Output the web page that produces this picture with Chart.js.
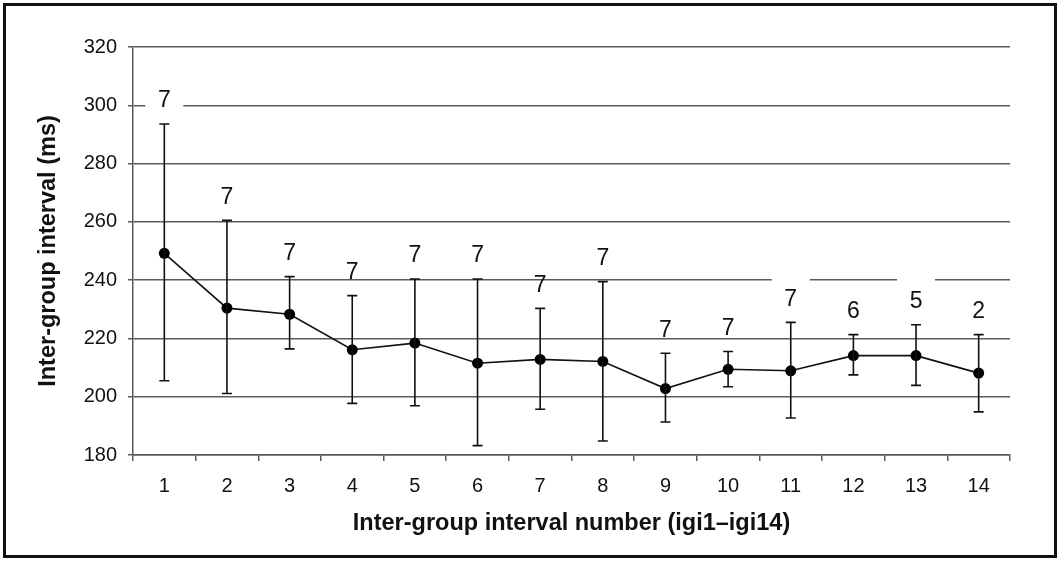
<!DOCTYPE html>
<html lang="en">
<head>
    <meta charset="UTF-8">
    <title>Inter-group interval</title>
    <script src="https://cdn.jsdelivr.net/npm/chart.js@4.4.0/dist/chart.umd.min.js"></script>
    <style>
        body { margin: 0; background: #fff; }
        .wrap { position: relative; width: 1060px; height: 562px; }
        .wrap canvas { position: absolute; left: 0; top: 0; }
        .frame {
            position: absolute; left: 3px; top: 3px; width: 1048px; height: 549px;
            border: 3px solid #111; pointer-events: none;
        }
    </style>
</head>
<body>
    <div class="wrap">
        <canvas id="igiChart" width="1060" height="562"></canvas>
        <div class="frame"></div>
    </div>

    <script>
        // data
        const categories = ['1', '2', '3', '4', '5', '6', '7', '8', '9', '10', '11', '12', '13', '14'];
        const means = [249.2, 230.4, 228.3, 216.1, 218.4, 211.5, 212.8, 212.1, 202.8, 209.4, 208.9, 214.1, 214.1, 208.1];
        const upper = [293.6, 260.5, 241.2, 234.7, 240.4, 240.4, 230.3, 239.5, 214.9, 215.5, 225.5, 221.3, 224.7, 221.3];
        const lower = [205.5, 201.1, 216.4, 197.7, 196.9, 183.2, 195.7, 184.8, 191.3, 203.4, 192.7, 207.5, 203.9, 194.8];
        const nCounts = [7, 7, 7, 7, 7, 7, 7, 7, 7, 7, 7, 6, 5, 2];
        const yTicks = [180, 200, 220, 240, 260, 280, 300, 320];

        const FONT = '"Liberation Sans", Arial, sans-serif';
        const gridGrey = '#5a5a5a';

        // error bars + the n labels above them
        const errorBars = {
            id: 'errorBars',
            afterDatasetsDraw(chart, args, opts) {
                const { ctx, scales: { x, y } } = chart;
                ctx.save();
                ctx.strokeStyle = '#111';
                ctx.lineWidth = 1.6;
                for (let i = 0; i < means.length; i++) {
                    const px = x.getPixelForValue(i);
                    const top = y.getPixelForValue(upper[i]);
                    const bot = y.getPixelForValue(lower[i]);
                    ctx.beginPath();
                    ctx.moveTo(px, top); ctx.lineTo(px, bot);
                    ctx.moveTo(px - 5, top); ctx.lineTo(px + 5, top);
                    ctx.moveTo(px - 5, bot); ctx.lineTo(px + 5, bot);
                    ctx.stroke();
                }
                ctx.font = '23px ' + FONT;
                ctx.textAlign = 'center';
                ctx.textBaseline = 'middle';
                for (let i = 0; i < nCounts.length; i++) {
                    const px = x.getPixelForValue(i);
                    const py = y.getPixelForValue(upper[i]) - 24;
                    if (opts.knockout.includes(i)) {
                        ctx.fillStyle = '#fff';
                        ctx.fillRect(px - 19, py - 24, 38, 36);
                    }
                    ctx.fillStyle = '#111';
                    ctx.fillText(String(nCounts[i]), px, py + 1);
                }
                ctx.restore();
            }
        };

        const ctx = document.getElementById('igiChart').getContext('2d');
        new Chart(ctx, {
            type: 'line',
            data: {
                labels: categories,
                datasets: [{
                    data: means,
                    borderColor: '#111',
                    borderWidth: 1.6,
                    backgroundColor: '#000',
                    pointRadius: 5.5,
                    pointBorderWidth: 0,
                    pointBackgroundColor: '#000',
                    tension: 0,
                    fill: false
                }]
            },
            options: {
                responsive: false,
                animation: false,
                events: [],
                layout: { padding: { left: 30, top: 47, right: 50, bottom: 20 } },
                plugins: {
                    legend: { display: false },
                    tooltip: { enabled: false },
                    errorBars: { knockout: [0, 10, 12] }
                },
                scales: {
                    x: {
                        offset: true,
                        afterFit(scale) { scale.height = 562 - 455 - 20; },
                        grid: {
                            offset: true,
                            drawOnChartArea: false,
                            color: gridGrey,
                            lineWidth: 1.5,
                            tickLength: 6
                        },
                        border: { color: gridGrey, width: 1.5 },
                        ticks: {
                            color: '#111',
                            padding: 13,
                            font: { family: FONT, size: 20 }
                        },
                        title: {
                            display: true,
                            text: 'Inter-group interval number (igi1–igi14)',
                            color: '#111',
                            font: { family: FONT, size: 23.5, weight: 'bold' },
                            padding: { top: 0, bottom: 4 }
                        }
                    },
                    y: {
                        min: 180,
                        max: 320,
                        afterFit(scale) { scale.width = 133 - 30; },
                        afterBuildTicks(scale) { scale.ticks = yTicks.map(v => ({ value: v })); },
                        grid: {
                            color: gridGrey,
                            lineWidth: 1.5,
                            tickLength: 5
                        },
                        border: { color: gridGrey, width: 1.5 },
                        ticks: {
                            color: '#111',
                            padding: 11,
                            font: { family: FONT, size: 20 }
                        },
                        title: {
                            display: true,
                            text: 'Inter-group interval (ms)',
                            color: '#111',
                            font: { family: FONT, size: 23.5, weight: 'bold' },
                            padding: { top: 4, bottom: 0 }
                        }
                    }
                }
            },
            plugins: [errorBars]
        });
    </script>
</body>
</html>
